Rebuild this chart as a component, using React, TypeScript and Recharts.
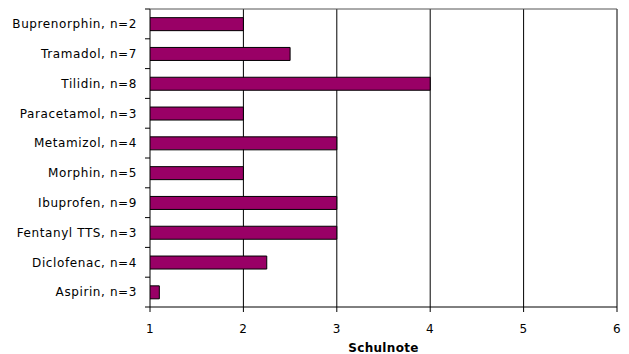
import React from "react";
import { BarChart, Bar, XAxis, YAxis, CartesianGrid } from "recharts";

const categories = [
  "Buprenorphin, n=2",
  "Tramadol, n=7",
  "Tilidin, n=8",
  "Paracetamol, n=3",
  "Metamizol, n=4",
  "Morphin, n=5",
  "Ibuprofen, n=9",
  "Fentanyl TTS, n=3",
  "Diclofenac, n=4",
  "Aspirin, n=3",
];
const schulnote = [2, 2.5, 4, 2, 3, 2, 3, 3, 2.25, 1.1];
const xTicks = [1, 2, 3, 4, 5, 6];

const data = categories.map((name, i) => ({ name, value: schulnote[i] }));

const font = "'DejaVu Sans', Verdana, sans-serif";
const CHART_W = 629;
const CHART_H = 354;
const MARGIN = { top: 9, right: 12, bottom: 7, left: 10 };
const Y_AXIS_W = 140;
const PLOT_W = CHART_W - MARGIN.left - MARGIN.right - Y_AXIS_W;
const TICK_MARGIN = 13;
const TICK_LEN = 5;

const CategoryTick = (props: any) => {
  const { x, y, payload } = props;
  const half = payload && typeof payload.offset === "number" ? payload.offset : 0;
  const axisX = x + TICK_MARGIN;
  const isFirst = payload.value === categories[0];
  const isLast = payload.value === categories[categories.length - 1];
  return (
    <g>
      <line x1={axisX - TICK_LEN} x2={axisX} y1={y - half} y2={y - half} stroke="#000" />
      {isFirst && (
        <line x1={axisX} x2={axisX + PLOT_W} y1={y - half} y2={y - half} stroke="#555" strokeWidth={1} />
      )}
      {isLast && (
        <line x1={axisX - TICK_LEN} x2={axisX} y1={y + half} y2={y + half} stroke="#000" />
      )}
      <text
        x={x}
        y={y}
        dy="0.355em"
        textAnchor="end"
        fill="#000"
        fontSize={12}
        fontFamily={font}
        letterSpacing={0.6}
      >
        {payload.value}
      </text>
    </g>
  );
};

export default function App() {
  return (
    <div style={{ position: "absolute", left: 0, top: 0, background: "#fff" }}>
      <BarChart
        width={CHART_W}
        height={CHART_H}
        data={data}
        layout="vertical"
        barCategoryGap="29%"
        margin={MARGIN}
      >
        <CartesianGrid horizontal={false} stroke="#000" strokeWidth={1} />
        <XAxis
          type="number"
          dataKey="value"
          domain={[1, 6]}
          ticks={xTicks}
          allowDataOverflow
          height={40}
          tickSize={5}
          tickMargin={12}
          stroke="#000"
          tick={{ fill: "#000", fontSize: 12, fontFamily: font, letterSpacing: 0.6 }}
          label={{
            value: "Schulnote",
            position: "insideBottom",
            offset: -5,
            style: { fontWeight: "bold", fontSize: 12, fontFamily: font, fill: "#000", letterSpacing: 0.3 },
          }}
        />
        <YAxis
          type="category"
          dataKey="name"
          width={Y_AXIS_W}
          axisLine={false}
          tickLine={false}
          tickSize={0}
          tickMargin={TICK_MARGIN}
          interval={0}
          tick={<CategoryTick />}
        />
        <Bar
          dataKey="value"
          fill="#990066"
          stroke="#000"
          strokeWidth={1}
          isAnimationActive={false}
        />
      </BarChart>
    </div>
  );
}
